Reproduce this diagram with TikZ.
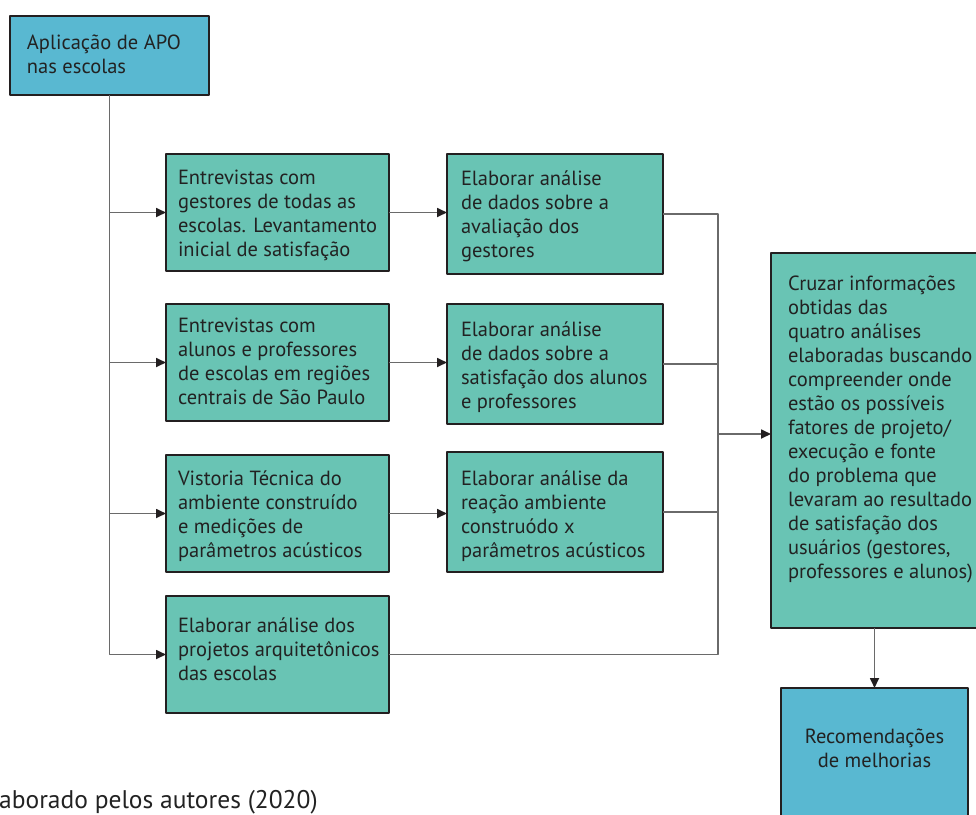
\documentclass[tikz,border=0pt]{standalone}
\usepackage{fontspec}
\setmainfont{PT Sans}
\usepackage{xcolor}
\usepackage{tikz}
\usetikzlibrary{arrows.meta}
\definecolor{ink}{HTML}{222222}
\definecolor{frame}{HTML}{231F20}
\definecolor{wire}{HTML}{6A6A6A}
\definecolor{teal}{HTML}{69C4B4}
\definecolor{sky}{HTML}{59B8D1}
\tikzset{
  StepBox/.style={
    draw=frame, line width=2pt, fill=teal,
    inner sep=0pt, outer sep=0pt, anchor=north west,
    text=ink, font=\fontsize{20.5}{24}\selectfont
  },
  EndBox/.style={StepBox, fill=sky},
  Wire/.style={draw=wire, line width=1.7pt},
  WireTo/.style={Wire, -{Triangle[length=10pt,width=9pt,color=frame]}}
}
\newcommand{\BoxText}[5][13pt]{%
  % #1 = left pad, #2 = width, #3 = height, #4 = first baseline, #5 = text
  \parbox[c][#3][t]{#2}{\raggedright\leftskip=#1\relax
    \rule{0pt}{#4}#5}%
}

\begin{document}
\begin{tikzpicture}[x=1pt, y=-1pt, line join=round]
  \useasboundingbox (0,0) rectangle (976,814);

  % start and end boxes
  \node[EndBox] (apo) at (10,16)
    {\BoxText[17pt]{199pt}{79pt}{33pt}{Aplicação de APO\\nas escolas}};
  \node[EndBox] (rec) at (781,688)
    {\parbox[c][140pt][t]{187pt}{\centering\rule{0pt}{55pt}Recomendações\\de melhorias}};

  % first column
  \node[StepBox] (e1) at (166,154)
    {\BoxText[12pt]{223pt}{117pt}{30pt}{Entrevistas com\\gestores de todas as\\escolas. Levantamento\\inicial de satisfação}};
  \node[StepBox] (e2) at (166,304)
    {\BoxText[12pt]{223pt}{117pt}{28pt}{Entrevistas com\\alunos e professores\\de escolas em regiões\\centrais de São Paulo}};
  \node[StepBox] (e3) at (166,455)
    {\BoxText[12pt]{223pt}{117pt}{30pt}{Vistoria Técnica do\\ambiente construído\\e medições de\\parâmetros acústicos}};
  \node[StepBox] (e4) at (166,596)
    {\BoxText[12pt]{223pt}{117pt}{36pt}{Elaborar análise dos\\projetos arquitetônicos\\das escolas}};

  % second column
  \node[StepBox] (a1) at (447,154)
    {\BoxText[14pt]{216pt}{120pt}{31pt}{Elaborar análise\\de dados sobre a\\avaliação dos\\gestores}};
  \node[StepBox] (a2) at (447,304)
    {\BoxText[14pt]{216pt}{120pt}{32pt}{Elaborar análise\\de dados sobre a\\satisfação dos alunos\\e professores}};
  \node[StepBox] (a3) at (447,452)
    {\BoxText[14pt]{216pt}{120pt}{33pt}{Elaborar análise da\\reação ambiente\\construódo x\\parâmetros acústicos}};

  % crossing box
  \node[StepBox] (cruz) at (771,253)
    {\BoxText[17pt]{214pt}{375pt}{37pt}{Cruzar informações\\obtidas das\\quatro análises\\elaboradas buscando\\compreender onde\\estão os possíveis\\fatores de projeto/\\execução e fonte\\do problema que\\levaram ao resultado\\de satisfação dos\\usuários (gestores,\\professores e alunos)}};

  \node[anchor=base west, inner sep=0pt, text=ink, font=\fontsize{25.5}{28}\selectfont]
    (fonte) at (-1,808) {aborado pelos autores (2020)};

  % trunk from the top box
  \draw[WireTo] (apo.south) |- (e4.west);
  \foreach \b in {e1,e2,e3}
    \draw[WireTo] (apo.south |- \b.west) -- (\b.west);

  % column to column
  \draw[WireTo] (e1.east) -- (e1.east -| a1.west);
  \draw[WireTo] (e2.east) -- (e2.east -| a2.west);
  \draw[WireTo] (e3.east) -- (e3.east -| a3.west);

  % collector
  \coordinate (col) at (718,0);
  \coordinate (cin) at (771,434);
  \draw[Wire] (a1.east) -- (a1.east -| col) -- (e4.east -| col) -- (e4.east);
  \draw[Wire] (a2.east) -- (a2.east -| col);
  \draw[Wire] (a3.east) -- (a3.east -| col);
  \draw[WireTo] (cin -| col) -- (cin);
  \draw[WireTo] (cruz.south -| rec.north) -- (rec.north);
\end{tikzpicture}
\end{document}
